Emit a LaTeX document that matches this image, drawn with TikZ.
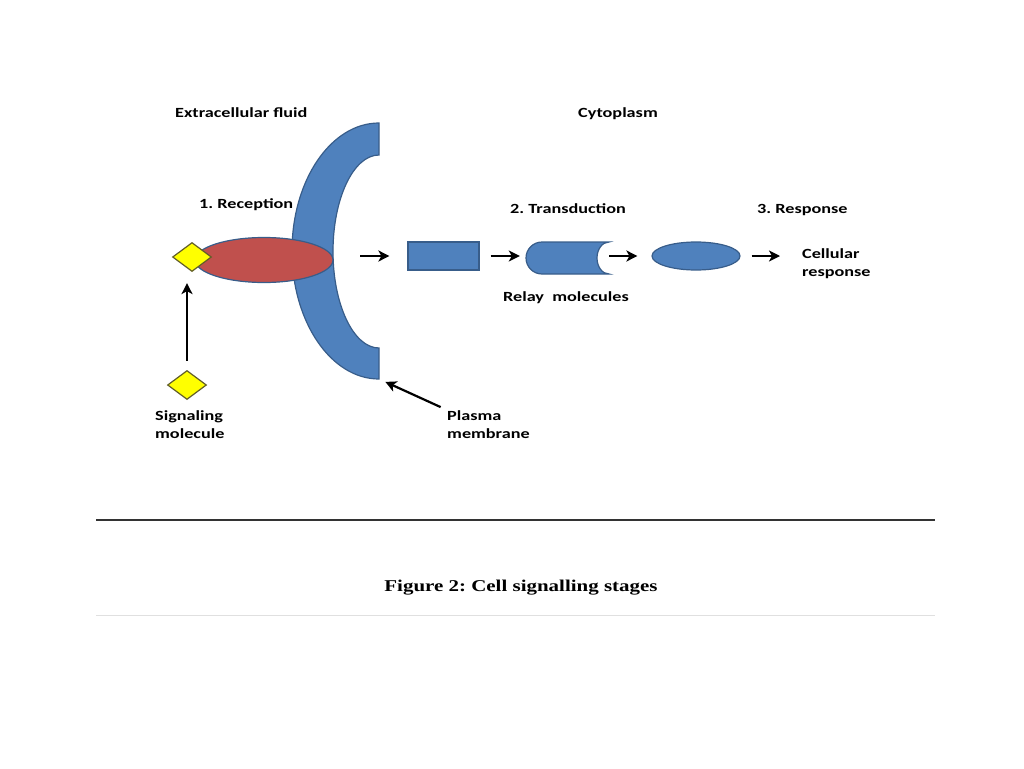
\documentclass[tikz,border=0pt]{standalone}
\usepackage{fontspec}
\setmainfont{Carlito}
\newfontfamily\lblfont{Carlito}[FakeStretch=1.3]
\newfontfamily\capfont{Liberation Serif}[FakeStretch=1.27]
\usetikzlibrary{arrows.meta,shapes.geometric}
\definecolor{cblue}{HTML}{4F81BD}
\definecolor{cline}{HTML}{385D8A}
\definecolor{cred}{HTML}{C0504D}
\definecolor{cyel}{HTML}{FFFF00}
\frenchspacing
\tikzset{>=Stealth}
\tikzset{
  lbl/.style={font=\lblfont\bfseries\fontsize{14}{18}\selectfont, inner sep=0pt, align=left},
  flow/.style={-{Stealth[length=11pt,width=11pt,inset=3pt]}, line width=2.2pt},
  blob/.style={fill=cblue, draw=cline, line width=1.2pt},
  ligand/.style={diamond, fill=cyel, draw=olive!60!black, line width=1.2pt,
    minimum width=39pt, minimum height=29pt, inner sep=0pt}
}

\begin{document}
\begin{tikzpicture}[x=1pt,y=-1pt]
    \useasboundingbox (0,0) rectangle (1024,768);
    % membrane and receptor
    \draw[blob] (379,123) arc[start angle=270,end angle=90,x radius=87,y radius=128]
        -- (379,348) arc[start angle=90,end angle=270,x radius=46,y radius=96.5] -- cycle;
    \coordinate (mem) at (379,379);
    \coordinate (a0) at (360,256);
    \node[ellipse,fill=cred,draw=cline,line width=1.2pt,minimum width=138pt,
        minimum height=45pt,inner sep=0pt] (rec) at (264,260) {};
    \node[ligand] (lig) at (192,257) {};
    \node[ligand] (sig) at (187,385) {};
    % relay chain
    \node[blob,minimum width=71pt,minimum height=28pt,inner sep=0pt] (k1) at (443.5,256) {};
    \node[minimum width=83pt,minimum height=32pt,inner sep=0pt] (k2) at (567.5,258) {};
    \draw[blob] (609,242) -- (542,242) arc[start angle=270,end angle=90,radius=16]
        -- (609,274) arc[start angle=90,end angle=270,x radius=12,y radius=16] -- cycle;
    \node[ellipse,blob,minimum width=88pt,minimum height=28pt,inner sep=0pt] (k3) at (696,256) {};
    % labels
    \node[lbl,anchor=base west] (ext) at (175,117) {Extracellular fluid};
    \node[lbl,anchor=base west] (cyt) at (578,117) {Cytoplasm};
    \node[lbl,anchor=base west] (s1) at (199,208) {1. Reception};
    \node[lbl,anchor=base west] (s2) at (510,213) {2. Transduction};
    \node[lbl,anchor=base west] (s3) at (757,213) {3. Response};
    \node[lbl,anchor=base west] (rel) at (503,301) {Relay\ \ molecules};
    \node[lbl,anchor=north west] (out) at (802,248) {Cellular\\response};
    \node[lbl,anchor=north west] (sl) at (155,410) {Signaling\\molecule};
    \node[lbl,anchor=north west] (pl) at (447,410) {Plasma\\membrane};
    % arrows
    \draw[flow,shorten >=18pt] (a0) -- (k1.west);
    \draw[flow,shorten <=11pt,shorten >=6pt] (k1.east) -- (k2.west |- k1.east);
    \draw[flow,shorten >=14pt] (k3.west -| k2.east) -- (k3.west);
    \draw[flow,shorten <=11pt,shorten >=22pt] (k3.east) -- (k3.east -| out.west);
    \draw[flow,shorten <=9pt,shorten >=11pt] (sig.north) -- (sig.north |- lig.south);
    \draw[flow,shorten <=7pt,shorten >=7pt] (pl.north west) -- (mem);
    % caption
    \draw[line width=2pt,black!80] (96,520) -- (935,520);
    \node[font=\capfont\bfseries\fontsize{16.5}{20}\selectfont,anchor=base] (cap) at (521,591)
        {Figure 2: Cell signalling stages};
    \draw[line width=1pt,black!12] (96,615) -- (935,615);
\end{tikzpicture}
\end{document}
